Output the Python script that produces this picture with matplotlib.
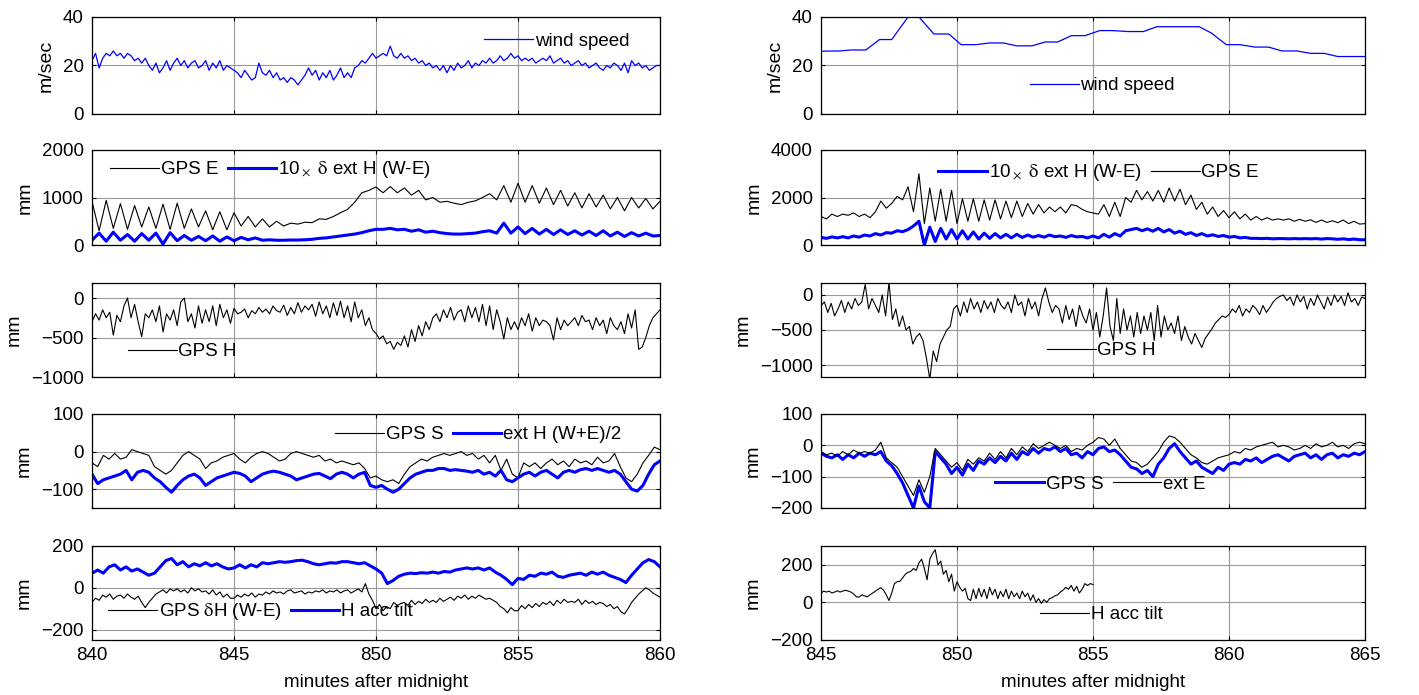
import numpy as np
import matplotlib
matplotlib.use('Agg')
import matplotlib.pyplot as plt

plt.rcParams['font.family'] = ['Liberation Sans', 'DejaVu Sans']
plt.rcParams['font.size'] = 13.5
plt.rcParams['mathtext.fontset'] = 'stix'

# ---------------- left column: 840 - 860 min ----------------
# one row = one minute (step 0.125 min)
wind_left = [22, 25, 19, 23, 25, 24, 26, 24,
             25, 23, 25, 24, 22, 23, 21, 23,
             20, 18, 21, 17, 19, 22, 18, 21,
             23, 20, 22, 19, 21, 22, 19, 20,
             22, 18, 21, 19, 22, 18, 20, 19,
             18, 17, 15, 18, 16, 14, 15, 21,
             17, 16, 18, 15, 17, 14, 15, 13,
             15, 14, 12, 14, 16, 19, 16, 18,
             14, 17, 15, 18, 14, 16, 19, 15,
             17, 15, 19, 20, 22, 21, 23, 25,
             23, 24, 25, 24, 28, 24, 23, 25,
             23, 24, 22, 23, 21, 22, 20, 21,
             19, 20, 18, 20, 17, 20, 18, 21,
             19, 20, 22, 19, 21, 20, 22, 21,
             23, 21, 22, 24, 22, 23, 25, 23,
             24, 22, 23, 22, 23, 21, 22, 23,
             22, 24, 21, 22, 23, 21, 22, 20,
             21, 22, 20, 21, 19, 20, 21, 19,
             18, 20, 19, 21, 20, 18, 21, 17,
             22, 20, 21, 19, 20, 18, 19, 20,
             20]

# step 0.25 min
gps_e_left = [920, 300, 940, 350, 870, 330, 830, 380, 800, 350,
              860, 330, 880, 350, 760, 380, 720, 320, 700, 320,
              680, 400, 600, 380, 550, 380, 500, 400, 460, 440,
              480, 470, 550, 540, 600, 680, 750, 900, 1100, 1150,
              1220, 1100, 1230, 1100, 1200, 1050, 1150, 950, 1000, 900,
              920, 880, 850, 900, 930, 1000, 1080, 950, 1250, 900,
              1300, 900, 1250, 880, 1200, 850, 1150, 820, 1100, 780,
              1080, 800, 1050, 760, 1000, 720, 1000, 780, 980, 760,
              920]

ext_dh_left = [100, 250, 80, 270, 100, 220, 80, 240, 100, 250,
               20, 260, 90, 200, 100, 180, 90, 190, 80, 170,
               90, 160, 110, 150, 100, 110, 100, 100, 105, 105,
               110, 120, 140, 150, 170, 190, 210, 230, 260, 300,
               330, 330, 350, 320, 330, 290, 320, 270, 290, 260,
               240, 230, 230, 240, 250, 280, 300, 250, 460, 250,
               380, 240, 350, 230, 330, 220, 320, 220, 300, 210,
               290, 200, 300, 190, 270, 180, 260, 190, 250, 190,
               200]

# step 0.125 min
gps_h_left = [-300, -200, -280, -150, -250, -180, -470, -220,
              -300, -100, 0, -250, -80, -300, -490, -200,
              -250, -150, -300, -100, -430, -200, -280, -150,
              -350, -50, 0, -300, -200, -380, -100, -320,
              -150, -300, -100, -350, -80, -250, -150, -320,
              -130, -200, -180, -140, -250, -160, -200, -120,
              -180, -140, -200, -100, -160, -180, -90, -220,
              -120, -200, -60, -180, -100, -150, -80, -230,
              -50, -200, -100, -250, -60, -220, -40, -250,
              -100, -300, -50, -250, -150, -350, -250, -400,
              -450, -520, -480, -580, -550, -650, -560, -600,
              -480, -620, -400, -550, -350, -480, -300, -400,
              -250, -200, -300, -150, -250, -120, -280, -180,
              -150, -300, -100, -250, -120, -300, -80, -350,
              -100, -400, -150, -300, -520, -250, -400, -300,
              -400, -250, -350, -200, -420, -250, -350, -280,
              -300, -350, -530, -250, -400, -280, -350, -300,
              -250, -350, -220, -300, -280, -400, -250, -350,
              -280, -450, -250, -350, -400, -300, -450, -200,
              -380, -150, -650, -620, -500, -350, -250, -200,
              -150]

# step 0.2 min
gps_s_left = [-30, -40, -10, -20, -5, -20, -15, 5, 0, -5,
              -10, -40, -50, -60, -50, -30, -10, 0, -10, -20,
              -45, -30, -25, -15, -10, -5, -20, -30, -15, -5,
              0, -5, -15, -25, -20, -5, 0, -5, -10, -15,
              -10, -25, -20, -30, -25, -30, -35, -30, -45, -70,
              -65, -75, -80, -75, -85, -60, -40, -30, -20, -25,
              -15, -10, -5, -10, -5, 0, -10, -5, -20, -10,
              -30, -10, -50, -20, -60, -70, -30, -40, -30, -45,
              -30, -20, -35, -25, -40, -20, -30, -25, -35, -15,
              -30, -25, -5, -40, -70, -80, -60, -30, -10, 12,
              5]

ext_h_left = [-60, -85, -75, -70, -65, -60, -50, -75, -55, -50,
              -55, -70, -80, -95, -108, -90, -75, -65, -60, -70,
              -90, -80, -70, -65, -60, -55, -58, -65, -80, -70,
              -60, -55, -52, -55, -60, -65, -75, -70, -65, -60,
              -58, -65, -72, -60, -55, -60, -70, -60, -55, -90,
              -95, -90, -100, -108, -100, -85, -70, -60, -55, -50,
              -50, -45, -45, -50, -48, -50, -52, -55, -50, -60,
              -55, -65, -50, -75, -80, -70, -60, -55, -65, -55,
              -50, -60, -70, -55, -50, -55, -48, -45, -50, -45,
              -50, -55, -50, -60, -80, -100, -105, -90, -60, -35,
              -25]

# step 0.125 min
gps_dh_left = [-70, -50, -60, -35, -45, -30, -55, -40,
               -35, -50, -30, -45, -55, -40, -70, -95,
               -70, -50, -30, -20, -10, -25, -5, -15,
               -5, -20, -10, -25, 0, -15, -5, -20,
               -15, -30, -10, -35, -20, -45, -30, -50,
               -50, -35, -45, -30, -40, -25, -45, -30,
               -35, -20, -30, -15, -25, -20, -30, -15,
               -10, -25, -20, -15, -30, -20, -25, -15,
               -20, -10, -25, -15, -20, -10, -25, -15,
               -10, -25, -15, -5, -20, 20, -30, -60,
               -100, -80, -110, -90, -100, -70, -85, -75,
               -70, -85, -60, -80, -65, -75, -55, -70,
               -60, -70, -50, -65, -55, -45, -60, -40,
               -50, -35, -55, -40, -50, -35, -45, -55,
               -50, -60, -70, -90, -100, -120, -95, -110,
               -110, -85, -100, -80, -95, -75, -90, -70,
               -80, -65, -85, -60, -75, -55, -70, -65,
               -70, -55, -80, -60, -75, -65, -80, -70,
               -75, -90, -80, -100, -90, -115, -125, -100,
               -70, -50, -30, -15, 0, -10, -25, -35,
               -45]

# step 0.2 min
acc_tilt_left = [70, 85, 70, 100, 110, 85, 100, 80, 90, 75,
                 60, 70, 100, 130, 140, 110, 125, 100, 115, 105,
                 120, 105, 115, 100, 90, 95, 110, 95, 110, 100,
                 120, 115, 120, 125, 122, 125, 130, 132, 125, 115,
                 110, 115, 120, 118, 125, 125, 120, 115, 120, 105,
                 90, 70, 20, 35, 55, 65, 70, 68, 72, 70,
                 75, 70, 78, 75, 85, 90, 95, 90, 95, 85,
                 95, 75, 60, 40, 15, 45, 40, 60, 55, 70,
                 65, 75, 55, 50, 60, 65, 70, 60, 75, 65,
                 75, 60, 50, 40, 25, 60, 90, 120, 135, 125,
                 100]

# ---------------- right column: 845 - 865 min ----------------
wind_right_t = [845, 845.7, 846.1, 846.65, 847.15, 847.6, 848.2, 848.6, 849.15, 849.7,
                850.15, 850.7, 851.2, 851.7, 852.2, 852.75, 853.25, 853.7, 854.2, 854.7,
                855.25, 855.7, 856.3, 856.85, 857.35, 858.9, 859.35, 859.9, 860.4, 860.95,
                861.45, 861.95, 862.5, 863, 863.5, 864, 865]
wind_right = [25.9, 26, 26.4, 26.4, 30.7, 30.7, 40, 40, 33, 33,
              28.6, 28.6, 29.3, 29.3, 28.1, 28.1, 29.7, 29.7, 32.3, 32.3,
              34.4, 34.4, 34, 34, 36, 36, 33.4, 28.6, 28.6, 27.6,
              27.6, 26, 26, 25, 25, 23.7, 23.7]

# step 0.2 min
gps_e_right = [1200, 1100, 1300, 1200, 1300, 1250, 1350, 1200, 1300, 1150,
               1400, 1850, 1550, 1750, 2050, 1900, 2450, 1400, 3000, 900,
               2400, 1000, 2350, 1000, 2300, 900, 1950, 1000, 1950, 1000,
               1900, 1050, 1900, 1100, 1850, 1150, 1850, 1200, 1750, 1300,
               1700, 1350, 1600, 1400, 1600, 1350, 1700, 1650, 1500, 1400,
               1350, 1300, 1700, 1200, 1800, 1200, 2000, 1800, 2300, 1900,
               2250, 1850, 2300, 1800, 2400, 1850, 2350, 1700, 2100, 1500,
               1800, 1300, 1600, 1200, 1450, 1150, 1400, 1100, 1300, 1050,
               1200, 1050, 1150, 1050, 1100, 1050, 1100, 1000, 1080, 1000,
               1060, 950, 1050, 950, 1020, 940, 1050, 900, 1000, 880,
               900]

ext_dh_right = [320, 280, 340, 300, 350, 300, 380, 330, 420, 380,
                480, 420, 520, 500, 600, 560, 650, 800, 1000, 0,
                750, 150, 700, 250, 650, 250, 600, 250, 550, 250,
                500, 280, 480, 300, 450, 300, 450, 320, 420, 330,
                400, 330, 420, 350, 380, 320, 400, 340, 360, 300,
                380, 300, 450, 330, 480, 380, 600, 650, 700, 600,
                680, 580, 700, 550, 650, 500, 580, 450, 520, 400,
                480, 380, 430, 360, 400, 330, 360, 300, 320, 280,
                280, 270, 280, 260, 270, 270, 260, 270, 260, 270,
                260, 270, 250, 270, 260, 240, 260, 230, 250, 220,
                220]

# step 0.125 min
gps_h_right = [-150, -100, -250, -120, -300, -200, -80, -250,
               -100, -200, -50, -150, -100, 150, -200, -50,
               -150, -250, 0, -300, 180, -350, -200, -450,
               -300, -500, -450, -700, -600, -550, -650, -900,
               -1200, -800, -950, -700, -600, -500, -450, -200,
               -150, -300, -100, -250, -50, -200, -100, -250,
               -80, -200, -100, -250, -50, -150, -200, -100,
               -250, 0, -150, -100, -300, -50, -200, -100,
               -300, -50, 100, -100, -250, -150, -200, -400,
               -150, -350, -200, -450, -150, -300, -400, -200,
               -500, -250, -600, -300, 100, -450, -650, -50,
               -550, -200, -500, -300, -600, -250, -550, -300,
               -500, -250, -650, -150, -600, -300, -500, -400,
               -550, -300, -650, -450, -600, -700, -550, -650,
               -750, -620, -550, -480, -400, -350, -300, -320,
               -280, -200, -250, -150, -300, -200, -250, -150,
               -200, -280, -150, -250, -180, -100, -50, -20,
               0, -80, -30, -150, 0, -100, -20, -200,
               -50, -150, 0, -100, -200, -30, -150, 0,
               -100, -20, -150, 30, -100, -50, -150, -30,
               -50]

# step 0.2 min
gps_s_right = [-25, -35, -40, -30, -45, -30, -40, -25, -35, -25,
               -30, -20, -50, -65, -90, -120, -160, -200, -130, -180,
               -200, -20, -40, -60, -90, -70, -95, -60, -80, -50,
               -60, -40, -55, -35, -50, -25, -45, -20, -30, -10,
               -25, -10, -15, -5, -20, -10, -30, -25, -40, -20,
               -30, -10, -5, -20, -15, -30, -50, -70, -75, -90,
               -80, -100, -60, -40, -10, 5, -20, -40, -60, -50,
               -70, -80, -90, -70, -80, -60, -55, -60, -45, -50,
               -40, -55, -45, -35, -30, -40, -50, -35, -30, -25,
               -40, -30, -45, -30, -25, -40, -30, -35, -25, -30,
               -20]

ext_e_right = [-20, -30, -25, -35, -20, -30, -15, -25, -20, -25,
               -15, 10, -40, -55, -70, -100, -130, -160, -110, -150,
               -100, -10, -30, -50, -70, -55, -80, -45, -60, -40,
               -50, -25, -45, -20, -40, -10, -30, -5, -20, 5,
               -10, 0, 10, 0, -10, 0, -20, -10, -15, 0,
               10, 25, 20, 0, 20, -10, -30, -50, -55, -70,
               -60, -40, -20, 10, 30, 25, 10, -10, -30, -40,
               -55, -60, -50, -40, -35, -30, -20, -25, -10, -15,
               -5, 0, 5, 10, -5, 0, -5, -15, -10, 0,
               -10, 5, -5, 0, 10, -5, 0, -10, 5, 10,
               5]

# 845 - 855, step 0.1 min
acc_tilt_right = [50, 60, 55, 60, 50, 55, 62, 55, 60, 65,
                  60, 55, 45, 30, 28, 40, 35, 30, 40, 50,
                  60, 70, 78, 65, 40, 10, 50, 100, 110, 112,
                  130, 150, 160, 165, 180, 170, 210, 230, 180, 120,
                  230, 260, 280, 200, 220, 150, 170, 110, 150, 60,
                  110, 80, 60, 75, 20, 10, 70, 20, 75, 30,
                  70, 20, 80, 40, 70, 20, 60, 30, 70, 20,
                  60, 30, 50, 20, 60, 30, 50, 10, 40, 0,
                  20, -5, 15, 0, 20, 25, 35, 40, 55, 65,
                  80, 70, 90, 60, 85, 50, 70, 100, 90, 100,
                  95]

BLUE = (0, 0, 1)

fig = plt.figure(figsize=(14.19, 6.95), dpi=100)

left_x, left_w = 92 / 1419, 568 / 1419
right_x, right_w = 821 / 1419, 544 / 1419
rows = [(17, 114), (150, 245), (283, 377), (414, 508), (546, 640)]


def make_ax(col, row, xlim, ylim, yticks, ylabel, bottom=False):
    x0, w = (left_x, left_w) if col == 0 else (right_x, right_w)
    top, bot = rows[row]
    ax = fig.add_axes([x0, 1 - bot / 695, w, (bot - top) / 695])
    ax.set_xlim(xlim)
    ax.set_ylim(ylim)
    ax.set_xticks(np.arange(xlim[0], xlim[1] + 1, 5))
    ax.set_yticks(yticks)
    ax.grid(True, color='0.6', lw=0.8)
    ax.tick_params(direction='in', top=True, right=True, length=3, labelsize=13.5)
    ax.tick_params(axis='y', pad=6)
    ax.tick_params(axis='x', pad=5)
    if bottom:
        ax.set_xlabel('minutes after midnight', fontsize=13.5, labelpad=7)
    else:
        ax.set_xticklabels([])
    ax.set_ylabel(ylabel, fontsize=14, labelpad=6)
    for s in ax.spines.values():
        s.set_linewidth(0.9)
    return ax


def leg(ax, x, y, ncol=1):
    ax.legend(loc='center left', bbox_to_anchor=(x, y), frameon=False, ncol=ncol,
              handlelength=2.6, handletextpad=0.1, columnspacing=0.5,
              borderpad=0, borderaxespad=0, fontsize=13.5)


def tl(vals):
    return np.linspace(840, 860, len(vals))


def tr(vals, end=865):
    return np.linspace(845, end, len(vals))


# left column
ax = make_ax(0, 0, (840, 860), (0, 40), [0, 20, 40], 'm/sec')
ax.plot(tl(wind_left), wind_left, color=BLUE, lw=0.9, label='wind speed')
leg(ax, 0.69, 0.75)

ax = make_ax(0, 1, (840, 860), (0, 2000), [0, 1000, 2000], 'mm')
ax.plot(tl(gps_e_left), gps_e_left, color='k', lw=0.8, label='GPS E')
ax.plot(tl(ext_dh_left), ext_dh_left, color=BLUE, lw=2.2, label=r'10$_\times$ $\mathrm{\delta}$ ext H (W-E)')
leg(ax, 0.032, 0.79, ncol=2)

ax = make_ax(0, 2, (840, 860), (-1000, 190), [-1000, -500, 0], 'mm')
ax.plot(tl(gps_h_left), gps_h_left, color='k', lw=0.8, label='GPS H')
leg(ax, 0.063, 0.27)

ax = make_ax(0, 3, (840, 860), (-150, 100), [-100, 0, 100], 'mm')
ax.plot(tl(gps_s_left), gps_s_left, color='k', lw=0.8, label='GPS S')
ax.plot(tl(ext_h_left), ext_h_left, color=BLUE, lw=2.2, label='ext H (W+E)/2')
leg(ax, 0.428, 0.78, ncol=2)

ax = make_ax(0, 4, (840, 860), (-250, 200), [-200, 0, 200], 'mm', bottom=True)
ax.plot(tl(gps_dh_left), gps_dh_left, color='k', lw=0.8, label=r'GPS $\mathrm{\delta}$H (W-E)')
ax.plot(tl(acc_tilt_left), acc_tilt_left, color=BLUE, lw=2.2, label='H acc tilt')
leg(ax, 0.028, 0.30, ncol=2)

# right column
ax = make_ax(1, 0, (845, 865), (0, 40), [0, 20, 40], 'm/sec')
ax.plot(wind_right_t, wind_right, color=BLUE, lw=0.9, label='wind speed')
leg(ax, 0.384, 0.29)

ax = make_ax(1, 1, (845, 865), (0, 4000), [0, 2000, 4000], 'mm')
ax.plot(tr(ext_dh_right), ext_dh_right, color=BLUE, lw=2.2, label=r'10$_\times$ $\mathrm{\delta}$ ext H (W-E)')
ax.plot(tr(gps_e_right), gps_e_right, color='k', lw=0.8, label='GPS E')
leg(ax, 0.215, 0.76, ncol=2)

ax = make_ax(1, 2, (845, 865), (-1170, 170), [-1000, -500, 0], 'mm')
ax.plot(tr(gps_h_right), gps_h_right, color='k', lw=0.8, label='GPS H')
leg(ax, 0.415, 0.28)

ax = make_ax(1, 3, (845, 865), (-200, 100), [-200, -100, 0, 100], 'mm')
ax.plot(tr(gps_s_right), gps_s_right, color=BLUE, lw=2.2, label='GPS S')
ax.plot(tr(ext_e_right), ext_e_right, color='k', lw=0.8, label='ext E')
leg(ax, 0.32, 0.255, ncol=2)

ax = make_ax(1, 4, (845, 865), (-200, 300), [-200, 0, 200], 'mm', bottom=True)
ax.plot(tr(acc_tilt_right, 855), acc_tilt_right, color='k', lw=0.8, label='H acc tilt')
leg(ax, 0.403, 0.27)

fig.savefig('out.png', dpi=100)
